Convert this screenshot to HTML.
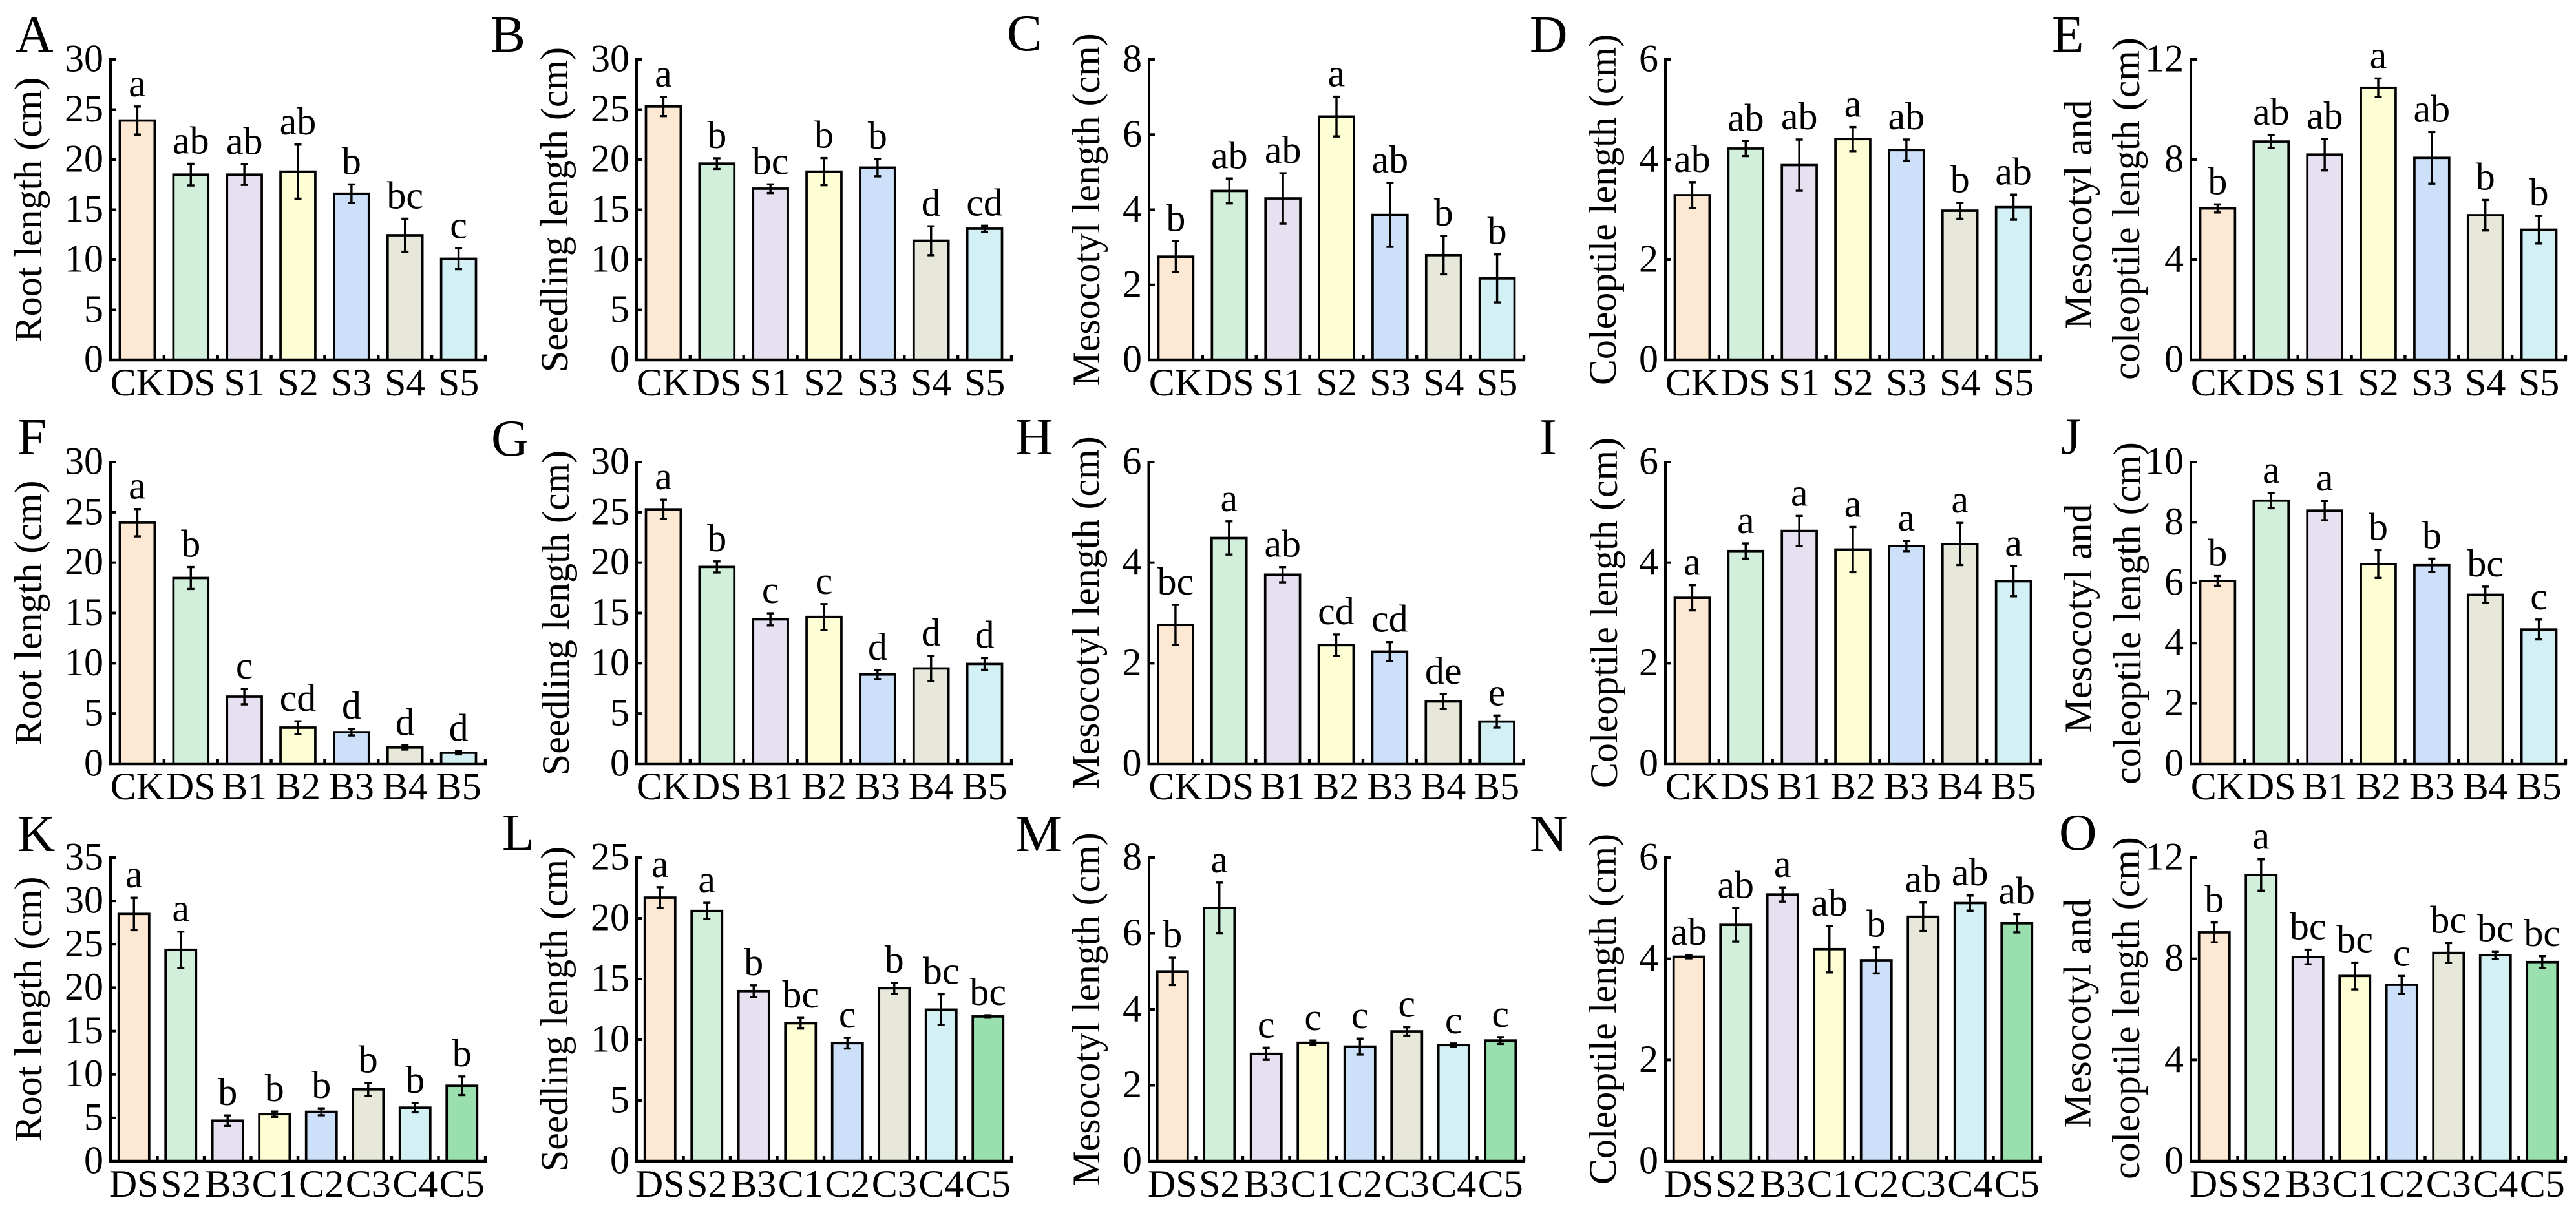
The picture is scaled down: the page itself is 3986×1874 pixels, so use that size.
<!DOCTYPE html>
<html lang="en">
<head>
<meta charset="utf-8">
<title>Root, seedling, mesocotyl and coleoptile length bar charts</title>
<style>
html,body{margin:0;padding:0;background:#fff;}
svg{display:block;}
text{font-family:"Liberation Serif",serif;fill:#000;}
</style>
</head>
<body>
<svg id="figure" xmlns="http://www.w3.org/2000/svg" width="3986" height="1874" viewBox="0 0 3986 1874"></svg>
<script>
// Categories
const categoriesS = ['CK','DS','S1','S2','S3','S4','S5'];
const categoriesB = ['CK','DS','B1','B2','B3','B4','B5'];
const categoriesC = ['DS','S2','B3','C1','C2','C3','C4','C5'];

// Y tick labels
const ticks0to30 = [0,5,10,15,20,25,30];
const ticks0to35 = [0,5,10,15,20,25,30,35];
const ticks0to25 = [0,5,10,15,20,25];
const ticks0to8 = [0,2,4,6,8];
const ticks0to6 = [0,2,4,6];
const ticks0to12 = [0,4,8,12];
const ticks0to10 = [0,2,4,6,8,10];

// Bar colours by order
const fillColours = ['#fde8d3','#d2efdc','#e6e0f0','#fefed5','#cde0f9','#e7e8da','#d3f1f4','#9adfae'];

// Panel A
const valuesA = [23.9,18.5,18.5,18.8,16.6,12.45,10.1];
const errorsA = [1.4,1.08,1.03,2.7,0.92,1.65,1.04];
const lettersA = ['a','ab','ab','ab','b','bc','c'];
// Panel B
const valuesB = [25.3,19.6,17.1,18.8,19.2,11.9,13.1];
const errorsB = [0.96,0.53,0.43,1.36,0.87,1.44,0.3];
const lettersB = ['a','b','bc','b','b','d','cd'];
// Panel C
const valuesC = [2.75,4.5,4.3,6.48,3.86,2.79,2.17];
const errorsC = [0.41,0.33,0.67,0.53,0.85,0.51,0.64];
const lettersC = ['b','ab','ab','a','ab','b','b'];
// Panel D
const valuesD = [3.29,4.22,3.89,4.41,4.19,2.98,3.05];
const errorsD = [0.26,0.15,0.51,0.24,0.21,0.16,0.25];
const lettersD = ['ab','ab','ab','a','ab','b','ab'];
// Panel E
const valuesE = [6.05,8.72,8.2,10.87,8.07,5.78,5.2];
const errorsE = [0.16,0.26,0.63,0.37,1.03,0.61,0.55];
const lettersE = ['b','ab','ab','a','ab','b','b'];
// Panel F
const valuesF = [23.97,18.47,6.68,3.6,3.14,1.62,1.1];
const errorsF = [1.36,1.09,0.77,0.63,0.32,0.2,0.16];
const lettersF = ['a','b','c','cd','d','d','d'];
// Panel G
const valuesG = [25.3,19.57,14.36,14.6,8.88,9.48,9.93];
const errorsG = [0.96,0.55,0.6,1.28,0.45,1.26,0.58];
const lettersG = ['a','b','c','c','d','d','d'];
// Panel H
const valuesH = [2.76,4.49,3.76,2.36,2.23,1.24,0.84];
const errorsH = [0.4,0.33,0.15,0.21,0.19,0.15,0.12];
const lettersH = ['bc','a','ab','cd','cd','de','e'];
// Panel I
const valuesI = [3.3,4.23,4.63,4.26,4.33,4.37,3.63];
const errorsI = [0.25,0.15,0.3,0.45,0.1,0.42,0.3];
const lettersI = ['a','a','a','a','a','a','a'];
// Panel J
const valuesJ = [6.06,8.72,8.39,6.62,6.58,5.6,4.45];
const errorsJ = [0.16,0.25,0.32,0.46,0.22,0.27,0.33];
const lettersJ = ['b','a','a','b','b','bc','c'];
// Panel K
const valuesK = [28.5,24.37,4.67,5.42,5.69,8.28,6.17,8.7];
const errorsK = [1.87,2.09,0.6,0.3,0.4,0.75,0.54,1.07];
const lettersK = ['a','a','b','b','b','b','b','b'];
// Panel L
const valuesL = [21.7,20.6,14,11.36,9.72,14.24,12.48,11.92];
const errorsL = [0.86,0.67,0.48,0.44,0.44,0.45,1.27,0.1];
const lettersL = ['a','a','b','bc','c','b','bc','bc'];
// Panel M
const valuesM = [5,6.67,2.83,3.12,3.02,3.42,3.06,3.18];
const errorsM = [0.36,0.67,0.16,0.06,0.21,0.11,0.04,0.09];
const lettersM = ['b','a','c','c','c','c','c','c'];
// Panel N
const valuesN = [4.04,4.67,5.27,4.19,3.97,4.83,5.1,4.7];
const errorsN = [0.03,0.33,0.14,0.46,0.26,0.28,0.15,0.18];
const lettersN = ['ab','ab','a','ab','b','ab','ab','ab'];
// Panel O
const valuesO = [9.04,11.31,8.07,7.32,6.97,8.23,8.14,7.87];
const errorsO = [0.39,0.62,0.29,0.53,0.35,0.39,0.15,0.23];
const lettersO = ['b','a','bc','bc','c','bc','bc','bc'];

const SVG_NS = 'http://www.w3.org/2000/svg';
const figure = document.getElementById('figure');
const PLOT_WIDTH = 580;
const FONT = 60;

function make(tag, parent, attrs, content) {
  const el = document.createElementNS(SVG_NS, tag);
  for (const k in attrs) el.setAttribute(k, attrs[k]);
  if (content !== undefined) el.textContent = content;
  parent.appendChild(el);
  return el;
}

function drawPanel(p) {
  const n = p.categories.length;
  const step = PLOT_WIDTH / n;
  const barWidth = step * 0.65;
  const ymax = p.ticks[p.ticks.length - 1];
  const xCenter = i => p.x + step * (i + 0.5);
  const yScale = v => p.base - (v / ymax) * (p.base - p.top);

  const g = make('g', figure, {});
  
  

  const tag = make('text', g, {x: p.letterX, y: p.letterY, 'font-size': 81}, p.letter);
  
  

  // Bars
  p.values.forEach((v, i) => {
    const top = yScale(v);
    const bar = make('rect', g, {
      x: xCenter(i) - barWidth / 2, y: top, width: barWidth, height: p.base - top,
      fill: fillColours[i], stroke: '#000', 'stroke-width': 3.7
    });
    
    
  });

  // Error bars and significance letters
  p.values.forEach((v, i) => {
    const cx = xCenter(i);
    const hi = yScale(v + p.errors[i]);
    const lo = yScale(v - p.errors[i]);
    const err = make('path', g, {
      d: 'M' + cx + ' ' + hi + 'V' + lo + 'M' + (cx - 5.5) + ' ' + hi + 'H' + (cx + 5.5) + 'M' + (cx - 5.5) + ' ' + lo + 'H' + (cx + 5.5),
      fill: 'none', stroke: '#000', 'stroke-width': 3.4
    });
    
    

    const sig = make('text', g, {x: cx, y: hi - 16, 'font-size': FONT, 'text-anchor': 'middle'}, p.letters[i]);
    
    

    const cat = make('text', g, {x: cx, y: p.base + 55, 'font-size': FONT, 'text-anchor': 'middle'}, p.categories[i]);
    
    
  });

  // Axes
  let axisPath = 'M' + p.x + ' ' + (p.top - 2) + 'V' + p.base;
  p.ticks.forEach(t => {
    axisPath += 'M' + p.x + ' ' + yScale(t) + 'H' + (p.x + 9);
  });
  const yAxis = make('path', g, {d: axisPath, fill: 'none', stroke: '#000', 'stroke-width': 4});
  
  

  let xPath = 'M' + (p.x - 2) + ' ' + p.base + 'H' + (p.x + PLOT_WIDTH + 2);
  for (let i = 1; i <= n; i++) {
    xPath += 'M' + (p.x + step * i) + ' ' + p.base + 'V' + (p.base - 8);
  }
  const xAxis = make('path', g, {d: xPath, fill: 'none', stroke: '#000', 'stroke-width': 4.4});
  
  

  // Y tick labels
  p.ticks.forEach(t => {
    const lab = make('text', g, {x: p.x - 11, y: yScale(t) + 18.5, 'font-size': FONT, 'text-anchor': 'end'}, String(t));
    
    
  });

  // Y axis titles
  p.titles.forEach(line => {
    const title = make('text', g, {
      x: 0, y: 0, 'font-size': FONT, 'text-anchor': 'middle',
      transform: 'translate(' + line.x + ' ' + line.y + ') rotate(-90)'
    }, line.text);
    
    
  });
}

const ROOT = 'Root length (cm)';
const SEED = 'Seedling length (cm)';
const MESO = 'Mesocotyl length (cm)';
const COLE = 'Coleoptile length (cm)';
const MC1 = 'Mesocotyl and';
const MC2 = 'coleoptile length (cm)';

// Row 1
drawPanel({letter:'A', letterX:24, letterY:80, x:171, top:92, base:557, categories:categoriesS, ticks:ticks0to30, values:valuesA, errors:errorsA, letters:lettersA, titles:[{text:ROOT, x:64, y:324.5}]});
drawPanel({letter:'B', letterX:759, letterY:80, x:985, top:92, base:557, categories:categoriesS, ticks:ticks0to30, values:valuesB, errors:errorsB, letters:lettersB, titles:[{text:SEED, x:878, y:324.5}]});
drawPanel({letter:'C', letterX:1558, letterY:78, x:1778, top:92, base:557, categories:categoriesS, ticks:ticks0to8, values:valuesC, errors:errorsC, letters:lettersC, titles:[{text:MESO, x:1701, y:324.5}]});
drawPanel({letter:'D', letterX:2367, letterY:80, x:2577, top:92, base:557, categories:categoriesS, ticks:ticks0to6, values:valuesD, errors:errorsD, letters:lettersD, titles:[{text:COLE, x:2500, y:324.5}]});
drawPanel({letter:'E', letterX:3175, letterY:80, x:3390, top:92, base:557, categories:categoriesS, ticks:ticks0to12, values:valuesE, errors:errorsE, letters:lettersE, titles:[{text:MC1, x:3236, y:332},{text:MC2, x:3310, y:323}]});

// Row 2
drawPanel({letter:'F', letterX:27, letterY:703, x:171, top:715, base:1182, categories:categoriesB, ticks:ticks0to30, values:valuesF, errors:errorsF, letters:lettersF, titles:[{text:ROOT, x:64, y:948.5}]});
drawPanel({letter:'G', letterX:760, letterY:705, x:985, top:715, base:1182, categories:categoriesB, ticks:ticks0to30, values:valuesG, errors:errorsG, letters:lettersG, titles:[{text:SEED, x:880, y:948.5}]});
drawPanel({letter:'H', letterX:1571, letterY:703, x:1777.5, top:715, base:1182, categories:categoriesB, ticks:ticks0to6, values:valuesH, errors:errorsH, letters:lettersH, titles:[{text:MESO, x:1700, y:948.5}]});
drawPanel({letter:'I', letterX:2382, letterY:703, x:2577, top:715, base:1182, categories:categoriesB, ticks:ticks0to6, values:valuesI, errors:errorsI, letters:lettersI, titles:[{text:COLE, x:2502, y:948.5}]});
drawPanel({letter:'J', letterX:3189, letterY:702, x:3390, top:715, base:1182, categories:categoriesB, ticks:ticks0to10, values:valuesJ, errors:errorsJ, letters:lettersJ, titles:[{text:MC1, x:3236, y:957},{text:MC2, x:3312, y:949}]});

// Row 3
drawPanel({letter:'K', letterX:27, letterY:1317, x:171, top:1327, base:1797, categories:categoriesC, ticks:ticks0to35, values:valuesK, errors:errorsK, letters:lettersK, titles:[{text:ROOT, x:64, y:1561.5}]});
drawPanel({letter:'L', letterX:777, letterY:1315, x:985, top:1327, base:1797, categories:categoriesC, ticks:ticks0to25, values:valuesL, errors:errorsL, letters:lettersL, titles:[{text:SEED, x:878, y:1561.5}]});
drawPanel({letter:'M', letterX:1571, letterY:1317, x:1778, top:1327, base:1797, categories:categoriesC, ticks:ticks0to8, values:valuesM, errors:errorsM, letters:lettersM, titles:[{text:MESO, x:1701, y:1561.5}]});
drawPanel({letter:'N', letterX:2367, letterY:1317, x:2577, top:1327, base:1797, categories:categoriesC, ticks:ticks0to6, values:valuesN, errors:errorsN, letters:lettersN, titles:[{text:COLE, x:2500, y:1561.5}]});
drawPanel({letter:'O', letterX:3186, letterY:1315, x:3390, top:1327, base:1797, categories:categoriesC, ticks:ticks0to12, values:valuesO, errors:errorsO, letters:lettersO, titles:[{text:MC1, x:3234.5, y:1568},{text:MC2, x:3310, y:1560}]});
</script>
</body>
</html>
